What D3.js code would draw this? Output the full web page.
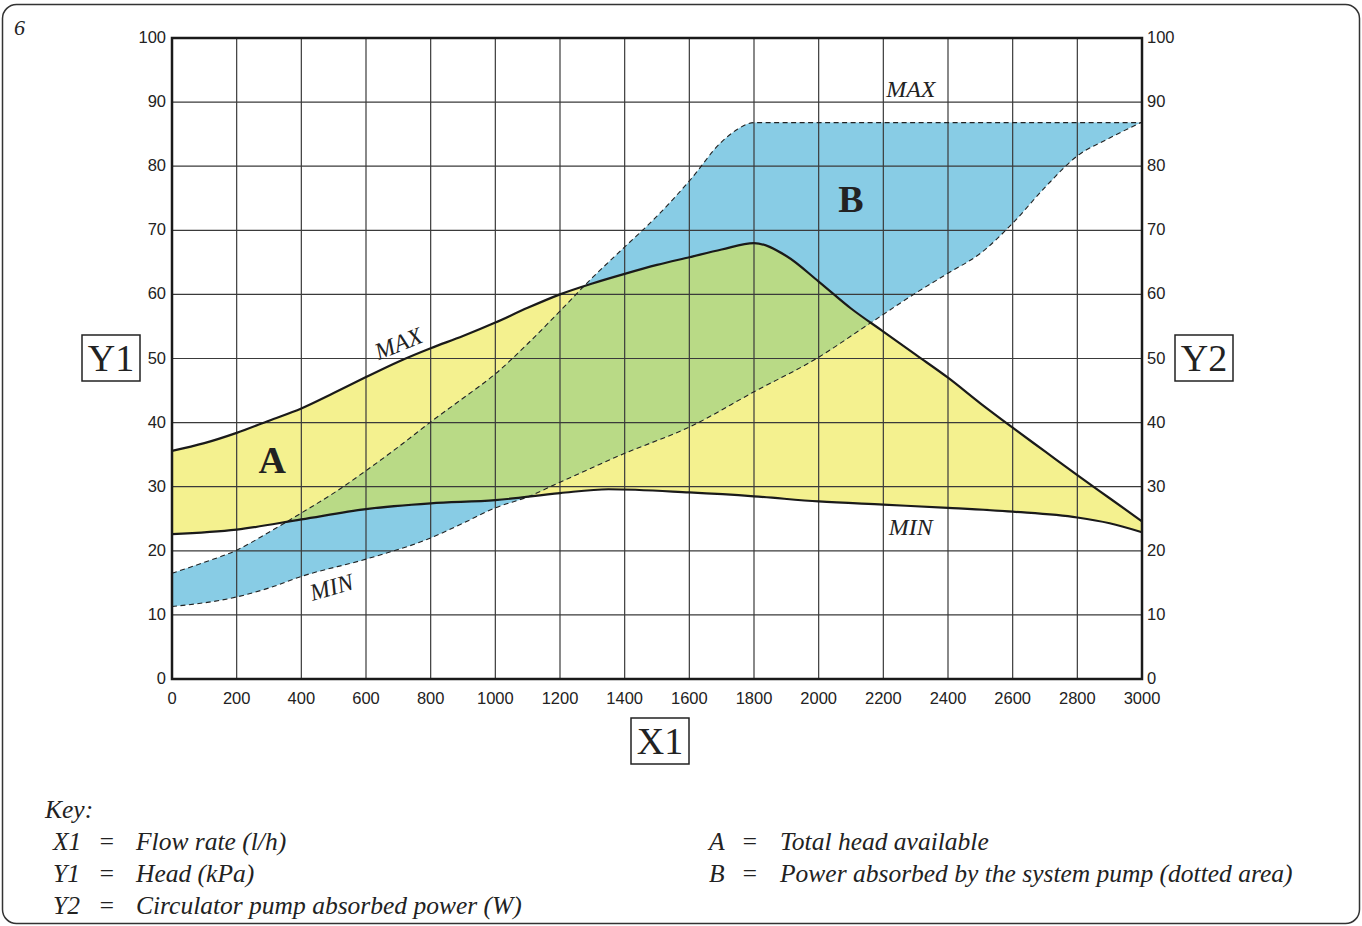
<!DOCTYPE html>
<html>
<head>
<meta charset="utf-8">
<script src="https://cdn.jsdelivr.net/npm/d3@7"></script>
<style>
  body { margin: 0; background: #fff; }
  .tick-label { font-family: "Liberation Sans", Arial, sans-serif; font-size: 16.5px; fill: #222; }
  .serif { font-family: "Liberation Serif", "Times New Roman", serif; fill: #222; }
  .key { font-family: "Liberation Serif", serif; font-style: italic; font-size: 25.5px; fill: #222; }
</style>
</head>
<body>
<script>
// Flow rate ticks (l/h) and head/power ticks
const xTicks = d3.range(0, 3001, 200);
const yTicks = d3.range(0, 101, 10);

// A: head curves (kPa)
const headMaxX = [0, 100, 200, 300, 400, 500, 600, 700, 800, 900, 1000, 1100, 1200, 1300, 1400, 1500, 1600, 1700, 1800, 1900, 2000, 2100, 2200, 2300, 2400, 2500, 2600, 2700, 2800, 2900, 3000];
const headMaxY = [35.6, 36.8, 38.4, 40.3, 42.2, 44.6, 47.1, 49.5, 51.6, 53.5, 55.6, 57.9, 60.0, 61.7, 63.2, 64.6, 65.8, 67.0, 68.0, 66.0, 62.0, 57.8, 54.2, 50.6, 47.0, 43.0, 39.2, 35.5, 31.8, 28.2, 24.6];
const headMinX = [0, 200, 400, 600, 800, 1000, 1200, 1350, 1600, 1800, 2000, 2200, 2400, 2600, 2800, 2900, 3000];
const headMinY = [22.6, 23.3, 24.9, 26.5, 27.4, 27.9, 29.0, 29.6, 29.1, 28.5, 27.7, 27.2, 26.7, 26.1, 25.2, 24.3, 22.9];

// B: circulator pump absorbed power (W)
const powMaxX = [0, 100, 200, 300, 400, 500, 600, 700, 800, 900, 1000, 1100, 1200, 1300, 1400, 1500, 1600, 1700, 1750, 1800, 2000, 2400, 2800, 3000];
const powMaxY = [16.5, 18.2, 20.1, 22.9, 25.9, 29.0, 32.5, 36.2, 40.1, 43.8, 47.6, 52.3, 57.4, 62.6, 67.4, 72.2, 77.7, 83.8, 85.8, 86.8, 86.8, 86.8, 86.8, 86.8];
const powMinX = [0, 200, 300, 400, 600, 800, 900, 1000, 1100, 1200, 1400, 1600, 1800, 2000, 2150, 2300, 2400, 2500, 2600, 2700, 2800, 2900, 3000];
const powMinY = [11.3, 12.8, 14.2, 16.0, 18.7, 22.0, 24.3, 26.7, 28.4, 30.7, 35.2, 39.3, 44.8, 50.2, 55.2, 60.2, 63.3, 66.4, 71.1, 76.7, 81.6, 84.4, 86.9];

const keyLeft = [["X1", "Flow rate (l/h)"], ["Y1", "Head (kPa)"], ["Y2", "Circulator pump absorbed power (W)"]];
const keyRight = [["A", "Total head available"], ["B", "Power absorbed by the system pump (dotted area)"]];

const W = 1362, H = 926;
const svg = d3.select("body").append("svg").attr("width", W).attr("height", H);

// outer frame
svg.append("rect").attr("x", 2.5).attr("y", 4.5).attr("width", W - 5).attr("height", H - 7)
  .attr("rx", 14).attr("fill", "none").attr("stroke", "#333").attr("stroke-width", 1.5);
svg.append("text").attr("class", "serif").attr("x", 14).attr("y", 35)
  .attr("font-size", 22).attr("font-style", "italic").text("6");

const x = d3.scaleLinear().domain([0, 3000]).range([172, 1142]);
const y = d3.scaleLinear().domain([0, 100]).range([679, 38]);

const pts = (xs, ys) => xs.map((v, i) => [v, ys[i]]);
const headMax = pts(headMaxX, headMaxY), headMin = pts(headMinX, headMinY);
const powMax = pts(powMaxX, powMaxY), powMin = pts(powMinX, powMinY);

const line = d3.line().x(d => x(d[0])).y(d => y(d[1])).curve(d3.curveMonotoneX);
// closed band: upper curve forward, lower curve backward
function band(upper, lower) {
  return line(upper) + "L" + line(lower.slice().reverse()).slice(1) + "Z";
}

const headBand = band(headMax, headMin);
const powBand = band(powMax, powMin);

svg.append("defs").append("clipPath").attr("id", "headClip")
  .append("path").attr("d", headBand);

svg.append("path").attr("d", headBand).attr("fill", "#f4f18f");
svg.append("path").attr("d", powBand).attr("fill", "#88cce5");
svg.append("path").attr("d", powBand).attr("fill", "#b9da86").attr("clip-path", "url(#headClip)");

// grid
const grid = svg.append("g").attr("stroke", "#3a3a3a").attr("stroke-width", 1.2);
grid.selectAll("line.v").data(xTicks).enter().append("line")
  .attr("x1", d => x(d)).attr("x2", d => x(d)).attr("y1", y(0)).attr("y2", y(100));
grid.selectAll("line.h").data(yTicks).enter().append("line")
  .attr("x1", x(0)).attr("x2", x(3000)).attr("y1", d => y(d)).attr("y2", d => y(d));

// dashed power curves
[powMax, powMin].forEach(p => {
  svg.append("path").attr("d", line(p)).attr("fill", "none")
    .attr("stroke", "#222").attr("stroke-width", 1.1).attr("stroke-dasharray", "5,3.5");
});
// solid head curves
[headMax, headMin].forEach(p => {
  svg.append("path").attr("d", line(p)).attr("fill", "none")
    .attr("stroke", "#1a1a1a").attr("stroke-width", 2.2);
});

// frame
svg.append("rect").attr("x", x(0)).attr("y", y(100)).attr("width", x(3000) - x(0)).attr("height", y(0) - y(100))
  .attr("fill", "none").attr("stroke", "#1a1a1a").attr("stroke-width", 2.5);

// tick labels
svg.selectAll("text.xl").data(xTicks).enter().append("text").attr("class", "tick-label")
  .attr("x", d => x(d)).attr("y", 704).attr("text-anchor", "middle").text(d => d);
svg.selectAll("text.yl").data(yTicks).enter().append("text").attr("class", "tick-label")
  .attr("x", 166).attr("y", d => y(d) + 5).attr("text-anchor", "end").text(d => d);
svg.selectAll("text.yr").data(yTicks).enter().append("text").attr("class", "tick-label")
  .attr("x", 1147).attr("y", d => y(d) + 5).attr("text-anchor", "start").text(d => d);

// boxed axis titles
function boxLabel(cx, cy, txt) {
  svg.append("rect").attr("x", cx - 29).attr("y", cy - 23).attr("width", 58).attr("height", 46)
    .attr("fill", "#fff").attr("stroke", "#222").attr("stroke-width", 1.5);
  svg.append("text").attr("class", "serif").attr("x", cx).attr("y", cy + 13)
    .attr("text-anchor", "middle").attr("font-size", 38).text(txt);
}
boxLabel(111, 358, "Y1");
boxLabel(1204, 358, "Y2");
boxLabel(660, 741, "X1");

// curve annotations
function note(px, py, txt, rot, opts = {}) {
  svg.append("text").attr("class", "serif")
    .attr("transform", `translate(${px},${py}) rotate(${rot})`)
    .attr("text-anchor", "middle")
    .attr("font-size", opts.size || 24)
    .attr("font-style", opts.bold ? "normal" : "italic")
    .attr("font-weight", opts.bold ? "bold" : "normal")
    .text(txt);
}
note(x(2285), 97, "MAX", 0);
note(x(2285), 535, "MIN", 0);
note(x(710), 351, "MAX", -22);
note(x(500), 595, "MIN", -16);
note(x(310), 473, "A", 0, { bold: true, size: 38 });
note(x(2100), 212, "B", 0, { bold: true, size: 38 });

// key
svg.append("text").attr("class", "key").attr("x", 45).attr("y", 818).text("Key:");
keyLeft.forEach((r, i) => {
  const yy = 850 + i * 32;
  svg.append("text").attr("class", "key").attr("x", 53).attr("y", yy).text(r[0]);
  svg.append("text").attr("class", "key").attr("x", 98).attr("y", yy).text("=");
  svg.append("text").attr("class", "key").attr("x", 136).attr("y", yy).text(r[1]);
});
keyRight.forEach((r, i) => {
  const yy = 850 + i * 32;
  svg.append("text").attr("class", "key").attr("x", 709).attr("y", yy).text(r[0]);
  svg.append("text").attr("class", "key").attr("x", 741).attr("y", yy).text("=");
  svg.append("text").attr("class", "key").attr("x", 780).attr("y", yy).text(r[1]);
});
</script>
</body>
</html>
